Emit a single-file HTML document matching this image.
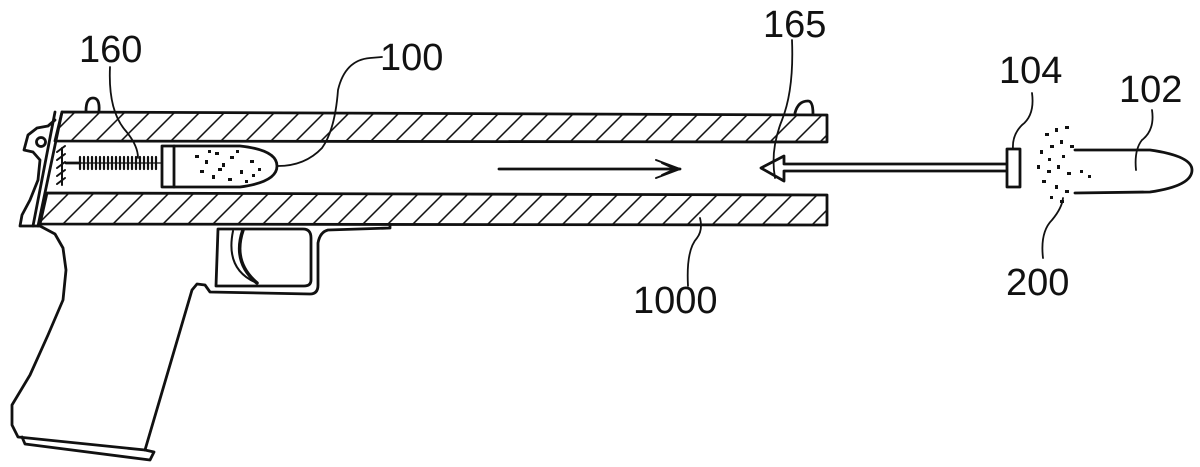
<!DOCTYPE html>
<html><head><meta charset="utf-8"><style>
html,body{margin:0;padding:0;background:#fff;}
svg{display:block;}
text{font-family:"Liberation Sans",sans-serif;font-size:38px;fill:#111;}
</style></head><body>
<svg width="1200" height="467" viewBox="0 0 1200 467" xmlns="http://www.w3.org/2000/svg">
<defs>
<pattern id="h" patternUnits="userSpaceOnUse" width="25" height="40" patternTransform="skewX(-45)">
<line x1="12" y1="0" x2="12" y2="40" stroke="#111" stroke-width="2.2"/>
</pattern>
</defs>
<g fill="none" stroke="#111" stroke-width="2.8" stroke-linejoin="round" stroke-linecap="round">
<path d="M62 112 L827 115 L827 142 L55 141 Z" fill="url(#h)"/>
<path d="M47 193 L827 195 L827 225 L40 224 Z" fill="url(#h)"/>
<path d="M62 112 L38 226"/>
<path d="M55 112 L33 226"/>
<path d="M86 111 Q86 98 93 98 Q100 98 99 111"/>
<path d="M795 113 Q798 101 808 101 Q813 101 813 114"/>
<path d="M55 120 L48 126 L37 128 L28 135 L24 150 L33 152 L40 160 L38 180 L30 200 L22 215 L20 226 L40 226"/>
<circle cx="41" cy="142" r="4.5"/>
<path d="M40 226 L55 234 L63 248 L66 270 L63 300 L48 335 L30 375 L12 405 L12 425 L18 437 L145 450"/>
<path d="M22 437 L25 444 L150 460 L154 452 L145 450"/>
<path d="M145 450 L192 290 L197 284 L205 285 L210 292 L310 294 Q318 294 318 285 L318 243 Q320 232 328 230 L390 228 L390 225"/>
<path d="M218 229 L303 229 Q311 229 311 238 L311 280 Q311 286 304 286 L216 286 Z"/>
<path d="M233 231 Q225 270 257 283" stroke-width="2"/>
<path d="M243 230 Q232 262 257 283" stroke-width="3.5"/>
<path d="M62 148 L62 185" stroke-width="2"/>
<path d="M57 152 L65 146 M57 160 L65 154 M57 168 L65 162 M57 176 L65 170 M57 184 L65 178" stroke-width="2"/>
<path d="M66 163 L80 163"/>
<path d="M80 157 L80 169 M84 157 L84 169 M88 157 L88 169 M92 157 L92 169 M96 157 L96 169 M100 157 L100 169 M104 157 L104 169 M108 157 L108 169 M112 157 L112 169 M116 157 L116 169 M120 157 L120 169 M124 157 L124 169 M128 157 L128 169 M132 157 L132 169 M136 157 L136 169 M140 157 L140 169 M144 157 L144 169 M148 157 L148 169 M152 157 L152 169 M156 157 L156 169" stroke-width="2.2"/>
<path d="M80 163 L162 163" stroke-width="1.2"/>
<path d="M162 146 L240 146 Q277 150 277 166 Q277 182 240 187 L162 187 Z"/>
<path d="M174 146 L174 187"/>
<path d="M499 169 L680 169"/>
<path d="M656 160 L680 169 L656 178 M662 163 L675 169 L662 175" stroke-width="2"/>
<path d="M1006 164 L784 164 L784 156 L761 168 L784 181 L784 171 L1006 171"/>
<rect x="1007" y="149" width="13" height="38"/>
<path d="M1075 150 L1150 150 Q1192 156 1192 170 Q1192 186 1150 192 L1075 193"/>
<path d="M110 67 Q108 110 125 130 Q138 145 138 158" stroke-width="1.8"/>
<path d="M382 57 L370 58 Q345 60 338 90 Q335 130 322 148 Q305 166 278 166" stroke-width="1.8"/>
<path d="M792 40 Q794 90 782 120 Q770 150 775 178" stroke-width="1.8"/>
<path d="M688 286 Q686 250 697 238 Q703 230 700 218" stroke-width="1.8"/>
<path d="M1032 93 Q1035 115 1022 125 Q1012 135 1013 149" stroke-width="1.8"/>
<path d="M1152 110 Q1155 130 1142 140 Q1134 150 1136 170" stroke-width="1.8"/>
<path d="M1043 258 Q1040 232 1052 220 Q1062 208 1063 198" stroke-width="1.8"/>
</g>
<g fill="#111">
<rect x="195" y="155" width="4" height="3"/><rect x="205" y="160" width="3" height="4"/><rect x="215" y="152" width="4" height="3"/><rect x="222" y="163" width="3" height="4"/><rect x="230" y="156" width="4" height="3"/><rect x="240" y="170" width="3" height="4"/><rect x="250" y="160" width="4" height="3"/><rect x="212" y="175" width="3" height="4"/><rect x="228" y="178" width="4" height="3"/><rect x="245" y="180" width="3" height="3"/><rect x="200" y="170" width="4" height="3"/><rect x="258" y="168" width="3" height="3"/><rect x="236" y="150" width="3" height="3"/><rect x="218" y="168" width="4" height="3"/><rect x="208" y="150" width="3" height="3"/><rect x="252" y="174" width="3" height="3"/>
<rect x="1045" y="133" width="4" height="3"/><rect x="1055" y="128" width="3" height="4"/><rect x="1065" y="126" width="4" height="3"/><rect x="1040" y="150" width="3" height="4"/><rect x="1050" y="145" width="4" height="3"/><rect x="1060" y="140" width="3" height="4"/><rect x="1070" y="145" width="4" height="3"/><rect x="1037" y="165" width="3" height="4"/><rect x="1047" y="170" width="4" height="3"/><rect x="1057" y="165" width="3" height="4"/><rect x="1067" y="172" width="4" height="3"/><rect x="1080" y="170" width="3" height="3"/><rect x="1088" y="175" width="3" height="3"/><rect x="1042" y="180" width="4" height="3"/><rect x="1055" y="185" width="3" height="4"/><rect x="1065" y="190" width="4" height="3"/><rect x="1050" y="196" width="3" height="3"/><rect x="1060" y="200" width="4" height="3"/><rect x="1048" y="158" width="3" height="3"/><rect x="1062" y="155" width="3" height="3"/>
</g>
<text x="79" y="62">160</text>
<text x="380" y="70">100</text>
<text x="763" y="37">165</text>
<text x="999" y="83">104</text>
<text x="1119" y="102">102</text>
<text x="1006" y="295">200</text>
<text x="633" y="313">1000</text>
</svg>
</body></html>
